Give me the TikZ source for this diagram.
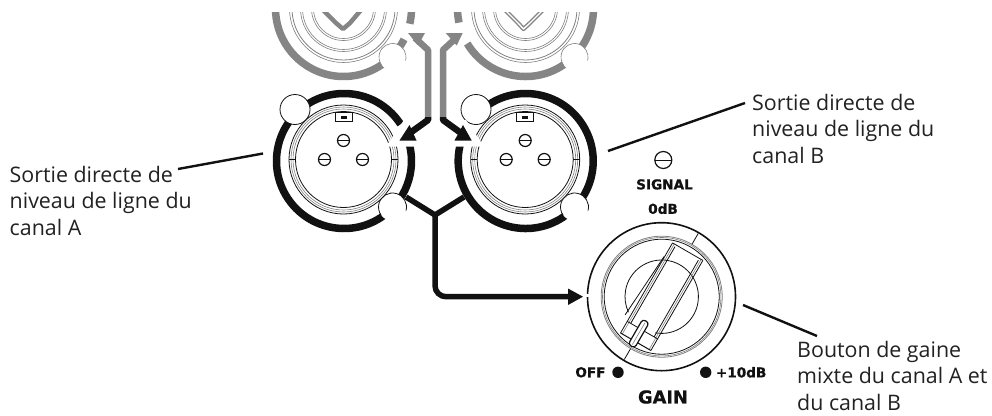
\documentclass[tikz,border=0pt]{standalone}
\usepackage{fontspec}
\setmainfont{Open Sans}
\newfontfamily\lblfont{DejaVu Sans Bold}[FakeBold=0.8]
\definecolor{grayconn}{HTML}{858585}
\definecolor{ink}{HTML}{111111}
\definecolor{txt}{HTML}{222222}
\tikzset{
  ringblack/.style={draw=ink,line width=7.5pt},
  ringgray/.style={draw=grayconn,line width=7.5pt},
  connblack/.style={draw=ink,line width=6.5pt,line join=round},
  conngray/.style={draw=grayconn,line width=6.5pt,line join=round},
  leader/.style={draw=ink,line width=2.4pt},
  caption/.style={font=\fontsize{21.4}{26.5}\selectfont,align=left,anchor=north west,inner sep=0pt,text=txt},
  panel/.style={font=\lblfont\fontsize{13.6}{15}\selectfont,inner sep=0pt,text=ink},
  thin1/.style={draw=ink,line width=.8pt},
  thin2/.style={draw=gray,line width=.6pt},
  notchfill/.style={fill=white,draw=none,circle,inner sep=0pt},
}
\newcommand{\xlrbody}[2]{%
  \begin{scope}[shift={(#1,#2)}]
    \draw[thin1,fill=white] (0,0) circle (54.5);
    \draw[thin2] (0,0) circle (52.5);
    \draw[thin2] (0,0) circle (50.5);
    \draw[thin1] (0,0) circle (48);
    \draw[thin1] (-54.5,0)--(-48,0) (48,0)--(54.5,0);
    \draw[thin1,fill=white] (-8.5,-47) rectangle (8.5,-38.5);
    \fill[ink] (-3,-43.5) rectangle (3,-40.5);
    \foreach \px/\py in {0/-19,-19/0,19/0}{
      \draw[thin1,line width=1.2pt] (\px,\py) circle (6);
      \draw[thin1] (\px-6,\py)--(\px+6,\py);
    }
  \end{scope}}
\newcommand{\combobody}[2]{%
  \begin{scope}[shift={(#1,#2)}]
    \draw[thin2] (0,0) circle (54);
    \draw[thin1,draw=gray] (0,0) circle (51.5);
    \draw[thin2] (0,0) circle (43);
    \draw[thin2] (0,0) circle (41);
    \draw[thin2] (0,0) circle (32);
    \draw[thin2] (0,0) circle (30);
  \end{scope}}
\begin{document}
\begin{tikzpicture}[x=1pt,y=1pt,yscale=-1]
\useasboundingbox (0,0) rectangle (992,415);
\fill[white] (0,0) rectangle (992,415);

% upper (gray) connectors
\begin{scope}
  \clip (200,12) rectangle (700,100);
  \combobody{343.5}{8.5}
  \combobody{525.5}{8.5}
  \draw[grayconn,line width=4.5pt,line join=round] (323,10)--(336,23)--(343,29)--(350,23)--(361,10);
  \draw[grayconn,line width=4.2pt,line join=round] (505,10)--(518,23)--(523.5,29)--(530,23)--(543,10);
  \draw[white,line width=1.4pt,line join=round] (505,10)--(518,23)--(523.5,29)--(530,23)--(543,10);
  \draw[ringgray] (343.5,8.5) ++(27:68) arc[start angle=27,end angle=190,radius=68];
  \draw[ringgray] (343.5,8.5) ++(-10:68) arc[start angle=-10,end angle=13,radius=68];
  \draw[ringgray] (525.5,8.5) ++(149:68) arc[start angle=149,end angle=-10,radius=68];
  \draw[ringgray] (525.5,8.5) ++(190:68) arc[start angle=190,end angle=168,radius=68];
  \fill[white] (395,26.5) rectangle (475,33);
  \node[notchfill,minimum size=27pt] (ng1) at (392.5,57) {};
  \node[notchfill,minimum size=27pt] (ng2) at (574.5,57) {};
  \draw[thin2] (392.5,57) ++(15:13.5) arc[start angle=15,end angle=-215,radius=13.5];
  \draw[thin2] (574.5,57) ++(15:13.5) arc[start angle=15,end angle=-215,radius=13.5];
\end{scope}

% XLR rings
\draw[ringblack] (344,161) ++(-33:67.5) arc[start angle=-33,end angle=-375,radius=67.5];
\draw[ringblack] (525.7,161) ++(-165:67.5) arc[start angle=-165,end angle=-494,radius=67.5];
\node[notchfill,minimum size=30pt] (n1) at (295,109.5) {};
\node[notchfill,minimum size=28pt] (n2) at (392.5,207) {};
\node[notchfill,minimum size=30pt] (n3) at (476,109.5) {};
\node[notchfill,minimum size=28pt] (n4) at (574.5,207) {};
\draw[thin1] (295,109.5) circle (15);
\draw[thin1] (476,109.5) circle (15);
\draw[thin1] (392.5,207) ++(15:14) arc[start angle=15,end angle=-215,radius=14];
\draw[thin1] (574.5,207) ++(15:14) arc[start angle=15,end angle=-215,radius=14];
\xlrbody{343.5}{159.5}
\xlrbody{525.2}{159.5}

% white halos around the heads
\fill[white] (404,120) -- (386,146.5) -- (418,146.5) -- (420,122) -- cycle;
\fill[white] (466,120) -- (484,146.5) -- (452,146.5) -- (450,122) -- cycle;

% shared routing points
\coordinate (gl) at (428,117);
\coordinate (gr) at (443,117);
\coordinate (jn) at (435,215);
\coordinate (yl) at (406,197);
\coordinate (yr) at (464,197);

% gray arrows
\draw[conngray] (gl) -- (428,50) -- (415,38);
\draw[conngray] (gr) -- (443,50) -- (456,38);
\fill[grayconn] (408,33) -- (425,33) -- (418,45.5) -- cycle;
\fill[grayconn] (445.7,33) -- (462.7,33) -- (456.7,45.5) -- cycle;

% black arrows
\draw[connblack] (gl) -- (428,120) -- (410,133);
\draw[connblack] (gr) -- (443,120) -- (461,133);
\fill[ink] (399.5,140.5) -- (416.5,140.5) -- (409.5,125) -- cycle;
\fill[ink] (454.5,140.5) -- (471.7,140.5) -- (463,125) -- cycle;

% Y connector to knob
\node[circle,minimum size=148pt,inner sep=0pt,draw=ink,line width=1.6pt] (knob) at (661.5,296.7) {};
\draw[connblack,line width=5.5pt] (yl) -- (jn) -- (yr);
\draw[connblack,line width=5.5pt,rounded corners=11pt] (jn) -- (435,296.7) -- (570,296.7);
\fill[ink] (568,288.5) -- (583,296.7) -- (568,305) -- cycle;
\fill[white] (586,294) rectangle (589,296.5);

% knob
\begin{scope}[shift={(661.7,296.7)}]
  \draw[thin1,draw=gray] (0,0) circle (60.5);
  \draw[thin2] (0,0) circle (59.2);
  \draw[thin1] (0,0) circle (57.5);
  \draw[thin1] (100:36.7) arc[start angle=100,end angle=-205,radius=36.7];
  \begin{scope}[rotate=30]
    \draw[thin1] (-17.5,-52)--(-17.5,52) (17.5,-52)--(17.5,52);
    \draw[thin2] (-15.5,-52)--(-15.5,52) (15.5,-52)--(15.5,52);
    \draw[thin1] (-13.5,-50)--(-13.5,38.6) (13.5,-50)--(13.5,38.6);
    \draw[thin1] (-17.5,-52)--(17.5,-52);
    \draw[thin1,line width=1pt] (-17.5,52)--(17.5,52);
    \draw[thin1] (-17.5,38.6)--(17.5,38.6);
    \draw[thin1] (-18,-36)--(-22.6,34);
    \draw[thin1,line width=1.2pt,fill=white,rounded corners=3pt] (-5.2,29)rectangle(2.2,58);
    \draw[thin2] (-1.5,31)--(-1.5,56);
    \draw[thin1] (0,-73)--(0,-60.5) (-1,60.5)--(-1,73);
  \end{scope}
\end{scope}

% panel labels
\node[panel] (sig) at (664.5,184.4) {SIGNAL};
\node[panel] (odb) at (663,208.7) {0dB};
\draw[thin1,line width=1.2pt] (663.3,160) circle (8.5);
\draw[thin1] (654.8,160.5)--(671.8,160.5);
\node[panel,anchor=east] (off) at (605.7,372.3) {OFF};
\fill[ink] (618,372.3) circle (5.7);
\fill[ink] (705.7,372.3) circle (5.7);
\node[panel,anchor=west] (ten) at (715.7,372.3) {+10dB};
\node[panel,font=\lblfont\fontsize{17.8}{19}\selectfont] (gain) at (663,397) {GAIN};

% captions and leaders
\node[caption] (ca) at (9.5,165.7) {Sortie directe de\\niveau de ligne du\\canal A};
\node[caption] (cb) at (752,93.7) {Sortie directe de\\niveau de ligne du\\canal B};
\node[caption] (cc) at (797,340.7) {Bouton de gaine\\mixte du canal A et\\du canal B};
\coordinate (la) at (178,169);
\coordinate (lb) at (263,153.5);
\coordinate (ra) at (608,151);
\coordinate (rb) at (745,103);
\coordinate (ka) at (743,305);
\coordinate (kb) at (817,336);
\draw[leader] (la)--(lb);
\draw[leader] (ra)--(rb);
\draw[leader] (ka)--(kb);
\end{tikzpicture}
\end{document}
